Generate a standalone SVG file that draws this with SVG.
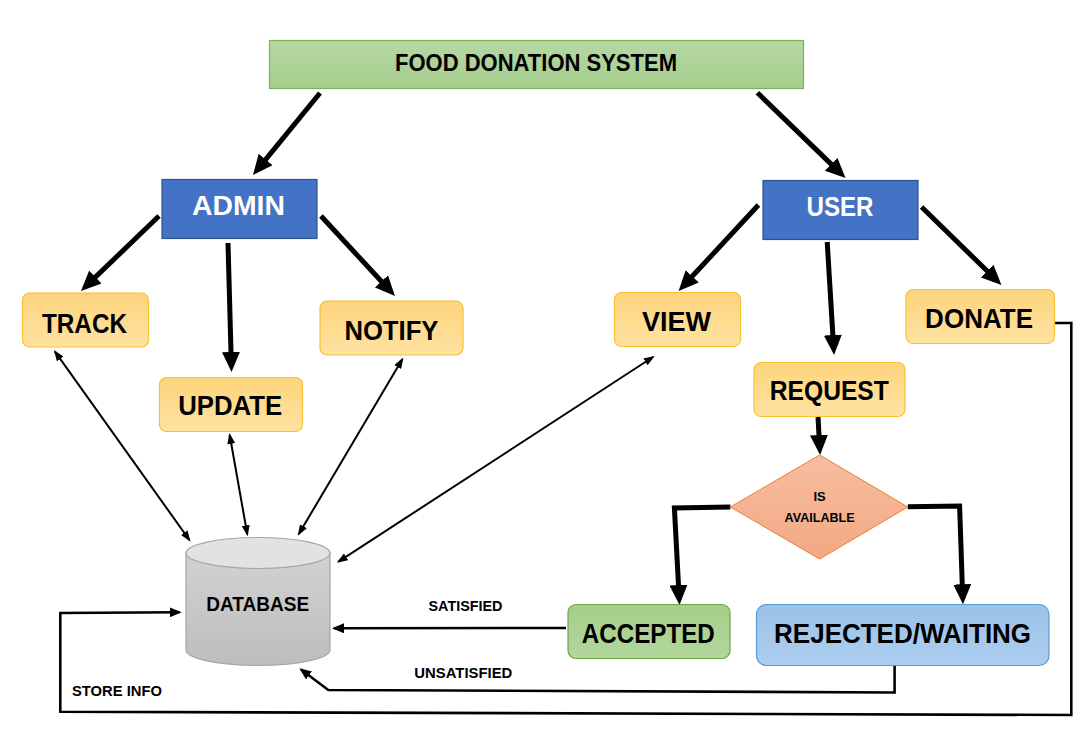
<svg xmlns="http://www.w3.org/2000/svg" width="1092" height="733" viewBox="0 0 1092 733">
<style>
.lbl{font-family:"Liberation Sans",Arial,sans-serif;font-weight:bold;fill:#000;text-anchor:middle}
.big{font-size:27px}
.wht{fill:#fff}
.sm{font-size:15px}
.xs{font-size:13px}
.yel{fill:url(#gYel);stroke:#f4c232;stroke-width:1.2}
.blue{fill:#4472c4;stroke:#2f528f;stroke-width:1.2}
.thick{fill:none;stroke:#000;stroke-width:5;marker-end:url(#hThick)}
.thin{fill:none;stroke:#000;stroke-width:2;marker-start:url(#hThin);marker-end:url(#hThin)}
.med{fill:none;stroke:#000;stroke-width:2.6;marker-end:url(#hMed)}
.plain{fill:none;stroke:#000;stroke-width:2.6}
</style>
<defs>
<linearGradient id="gTitle" x1="0" y1="0" x2="0" y2="1"><stop offset="0" stop-color="#b6d8a4"/><stop offset="1" stop-color="#a6cd8c"/></linearGradient>
<linearGradient id="gYel" x1="0" y1="0" x2="0" y2="1"><stop offset="0" stop-color="#fdd47c"/><stop offset="1" stop-color="#ffe2a2"/></linearGradient>
<linearGradient id="gGreen" x1="0" y1="0" x2="0" y2="1"><stop offset="0" stop-color="#a6cf8a"/><stop offset="1" stop-color="#b2d69c"/></linearGradient>
<linearGradient id="gBlue" x1="0" y1="0" x2="0" y2="1"><stop offset="0" stop-color="#9cc2e7"/><stop offset="1" stop-color="#accdef"/></linearGradient>
<linearGradient id="gDia" x1="0" y1="0" x2="0" y2="1"><stop offset="0" stop-color="#f6bea0"/><stop offset="1" stop-color="#f3a884"/></linearGradient>
<linearGradient id="gDb" x1="0" y1="0" x2="0" y2="1"><stop offset="0" stop-color="#d2d2d2"/><stop offset="1" stop-color="#bdbdbd"/></linearGradient>
<marker id="hThick" markerUnits="userSpaceOnUse" markerWidth="20" markerHeight="18" refX="4" refY="9" orient="auto"><path d="M0,0 L20,9 L0,18 Z" fill="#000"/></marker>
<marker id="hThin" markerUnits="userSpaceOnUse" markerWidth="11" markerHeight="8" refX="9" refY="4" orient="auto-start-reverse"><path d="M0,0 L11,4 L0,8 Z" fill="#000"/></marker>
<marker id="hMed" markerUnits="userSpaceOnUse" markerWidth="12" markerHeight="10" refX="10" refY="5" orient="auto"><path d="M0,0 L12,5 L0,10 Z" fill="#000"/></marker>
</defs>
<rect width="1092" height="733" fill="#fff"/>

<g id="connectors">
<path class="thick" d="M320,93 L263.1,162.6"/>
<path class="thick" d="M757.4,92.7 L834,166.9"/>
<path class="thick" d="M159,216 L92.5,279.9"/>
<path class="thick" d="M228,243 L231.1,356"/>
<path class="thick" d="M321,216 L384.1,284.3"/>
<path class="thick" d="M758.4,205 L689.5,279.3"/>
<path class="thick" d="M827.2,242 L833.1,339"/>
<path class="thick" d="M921.6,207 L990,273.8"/>
<path class="thick" d="M818,417 L819.2,439"/>
<path class="thick" d="M730.4,507 L674.4,508 L678.7,589"/>
<path class="thick" d="M907.8,506.7 L959.6,506 L962.4,588.3"/>
<path class="thin" d="M55,351.7 L189.4,540"/>
<path class="thin" d="M229.7,435 L247.3,534.3"/>
<path class="thin" d="M402.3,359.3 L298.8,534"/>
<path class="thin" d="M653,357 L338.5,561.7"/>
<path class="med" d="M566,628 L334,628.3"/>
<path class="med" d="M894.6,666 L894.6,692.5 L328.3,690 L301,669.5"/>
<path class="med" d="M1054.7,323 L1071.3,323 L1071.3,715 L60.3,711.7 L60.3,613 L179.6,612.3"/>
</g>

<g id="title">
<rect x="269.5" y="40.5" width="534" height="48" fill="url(#gTitle)" stroke="#7fae5d" stroke-width="1.2"/>
<text class="lbl" x="536" y="70.5" font-size="23" textLength="282" lengthAdjust="spacingAndGlyphs">FOOD DONATION SYSTEM</text>
</g>

<g id="admin">
<rect class="blue" x="162" y="179.5" width="155" height="59"/>
<text class="lbl big wht" x="238.5" y="215" textLength="93" lengthAdjust="spacingAndGlyphs">ADMIN</text>
</g>

<g id="user">
<rect class="blue" x="763" y="180.5" width="155" height="59"/>
<text class="lbl big wht" x="840" y="216" textLength="67" lengthAdjust="spacingAndGlyphs">USER</text>
</g>

<g id="track">
<rect class="yel" x="22.5" y="293" width="126" height="54" rx="7"/>
<text class="lbl big" x="84.5" y="333" textLength="85" lengthAdjust="spacingAndGlyphs">TRACK</text>
</g>

<g id="update">
<rect class="yel" x="159.5" y="377.5" width="143" height="54" rx="7"/>
<text class="lbl big" x="230.2" y="415" textLength="104" lengthAdjust="spacingAndGlyphs">UPDATE</text>
</g>

<g id="notify">
<rect class="yel" x="320" y="301" width="143" height="54" rx="7"/>
<text class="lbl big" x="391.4" y="340" textLength="94" lengthAdjust="spacingAndGlyphs">NOTIFY</text>
</g>

<g id="view">
<rect class="yel" x="614.5" y="292.5" width="126" height="54" rx="7"/>
<text class="lbl big" x="676.4" y="331" textLength="69" lengthAdjust="spacingAndGlyphs">VIEW</text>
</g>

<g id="request">
<rect class="yel" x="754" y="362.5" width="151" height="54" rx="7"/>
<text class="lbl big" x="829.3" y="400" textLength="119" lengthAdjust="spacingAndGlyphs">REQUEST</text>
</g>

<g id="donate">
<rect class="yel" x="906" y="289.5" width="148.5" height="54" rx="7"/>
<text class="lbl big" x="979.1" y="328" textLength="108" lengthAdjust="spacingAndGlyphs">DONATE</text>
</g>

<g id="decision">
<path d="M819.6,455 L907.8,507 L819.6,559 L730.4,507 Z" fill="url(#gDia)" stroke="#ed7d31" stroke-width="1"/>
<text class="lbl xs" x="819.6" y="501">IS</text>
<text class="lbl xs" x="819.6" y="521.7" textLength="70" lengthAdjust="spacingAndGlyphs">AVAILABLE</text>
</g>

<g id="accepted">
<rect x="568" y="604.5" width="162" height="54" rx="8" fill="url(#gGreen)" stroke="#6fa34a" stroke-width="1.2"/>
<text class="lbl big" x="648.3" y="642.7" textLength="133" lengthAdjust="spacingAndGlyphs">ACCEPTED</text>
</g>

<g id="rejected">
<rect x="756.5" y="604.5" width="292.5" height="61" rx="10" fill="url(#gBlue)" stroke="#5b9bd5" stroke-width="1.2"/>
<text class="lbl big" x="902.6" y="642.7" textLength="257" lengthAdjust="spacingAndGlyphs">REJECTED/WAITING</text>
</g>

<g id="database">
<path d="M186,553 L186,650 A72,15.5 0 0 0 330,650 L330,553 Z" fill="url(#gDb)" stroke="#a6a6a6" stroke-width="1.2"/>
<ellipse cx="258" cy="553" rx="72" ry="15.5" fill="#e2e2e2" stroke="#a6a6a6" stroke-width="1.2"/>
<text class="lbl" x="257.7" y="611" font-size="20" textLength="103" lengthAdjust="spacingAndGlyphs">DATABASE</text>
</g>

<g id="labels">
<text class="lbl sm" x="465.5" y="611" textLength="74" lengthAdjust="spacingAndGlyphs">SATISFIED</text>
<text class="lbl sm" x="463.3" y="677.7" textLength="98" lengthAdjust="spacingAndGlyphs">UNSATISFIED</text>
<text class="lbl sm" x="117" y="695.7" textLength="90" lengthAdjust="spacingAndGlyphs">STORE INFO</text>
</g>
</svg>
